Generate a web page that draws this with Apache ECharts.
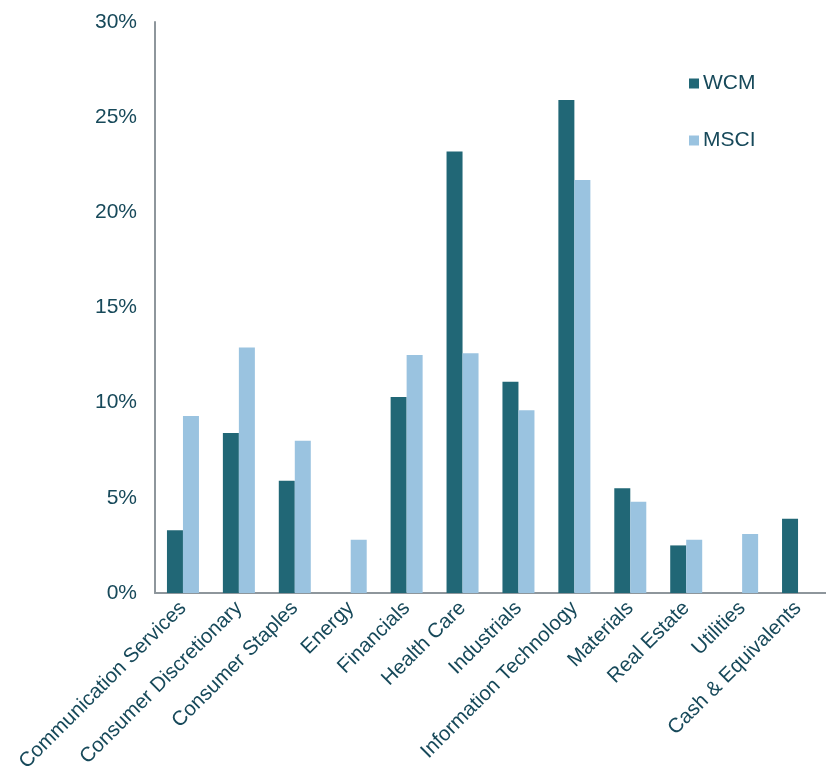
<!DOCTYPE html>
<html>
<head>
<meta charset="utf-8">
<script src="https://cdn.jsdelivr.net/npm/echarts@6/dist/echarts.min.js"></script>
<style>
  html, body { margin: 0; padding: 0; background: #fff; }
  #chart { width: 826px; height: 782px; }
</style>
</head>
<body>
<div id="chart"></div>
<script>
const categories = ['Communication Services', 'Consumer Discretionary', 'Consumer Staples', 'Energy',
  'Financials', 'Health Care', 'Industrials', 'Information Technology', 'Materials',
  'Real Estate', 'Utilities', 'Cash & Equivalents']
const wcm = [3.3, 8.4, 5.9, 0, 10.3, 23.2, 11.1, 25.9, 5.5, 2.5, 0, 3.9]
const msci = [9.3, 12.9, 8.0, 2.8, 12.5, 12.6, 9.6, 21.7, 4.8, 2.8, 3.1, 0]

const textColor = '#17495a'
const axisColor = '#8e969c'

const myChart = echarts.init(document.getElementById('chart'))
myChart.setOption({
  animation: false,
  textStyle: { fontFamily: 'Liberation Sans, Arial, sans-serif' },
  grid: { left: 155, right: 0, top: 22, bottom: 189, containLabel: false },
  legend: {
    orient: 'vertical',
    left: 684,
    top: 68,
    itemWidth: 10,
    itemHeight: 10,
    itemGap: 36,
    icon: 'rect',
    textStyle: { color: textColor, fontSize: 21, padding: [0, 0, 0, -1] },
    data: ['WCM', 'MSCI']
  },
  xAxis: {
    type: 'category',
    data: categories,
    axisTick: { show: false },
    axisLine: { show: true, lineStyle: { color: axisColor, width: 2 } },
    axisLabel: { rotate: 45, interval: 0, color: textColor, fontSize: 20.5, margin: 12 }
  },
  yAxis: {
    type: 'value',
    min: 0,
    max: 30,
    interval: 5,
    splitLine: { show: false },
    axisTick: { show: false },
    axisLine: { show: true, lineStyle: { color: axisColor, width: 2 } },
    axisLabel: { formatter: '{value}%', color: textColor, fontSize: 21, margin: 18 }
  },
  series: [
    {
      name: 'WCM',
      type: 'bar',
      data: wcm,
      barWidth: 16,
      barGap: '0%',
      itemStyle: { color: '#216776' }
    },
    {
      name: 'MSCI',
      type: 'bar',
      data: msci,
      barWidth: 16,
      itemStyle: { color: '#9ac3e0' }
    }
  ]
})
window.addEventListener('resize', () => {
  myChart.resize()
})
</script>
</body>
</html>
